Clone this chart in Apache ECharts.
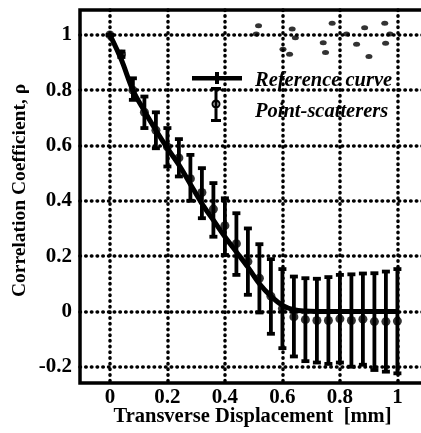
<!DOCTYPE html>
<html>
<head>
<meta charset="utf-8">
<script src="https://cdn.jsdelivr.net/npm/echarts@6/dist/echarts.min.js"></script>
<style>
  html, body { margin: 0; padding: 0; background: #fff; }
  #chart { width: 421px; height: 433px; }
</style>
</head>
<body>
<div id="chart"></div>
<script>
// transverse displacement [mm]
const displacement = [0, 0.04, 0.08, 0.12, 0.16, 0.2, 0.24, 0.28, 0.32, 0.36, 0.4, 0.44, 0.48,
  0.52, 0.56, 0.6, 0.64, 0.68, 0.72, 0.76, 0.8, 0.84, 0.88, 0.92, 0.96, 1.0];
// reference curve
const refCurve = [1.0, 0.91, 0.80, 0.725, 0.655, 0.59, 0.53, 0.46, 0.39, 0.33, 0.27, 0.215, 0.16,
  0.10, 0.055, 0.022, 0.006, 0.001, 0, 0, 0, 0, 0, 0, 0, 0];
// point-scatterers: mean and error bar ends
const psMean = [1.0, 0.93, 0.80, 0.72, 0.655, 0.595, 0.555, 0.48, 0.43, 0.37, 0.31, 0.245, 0.18,
  0.12, 0.055, 0.01, -0.02, -0.03, -0.033, -0.033, -0.027, -0.033, -0.028, -0.037, -0.037, -0.035];
const psHigh = [1.0, 0.94, 0.843, 0.777, 0.72, 0.663, 0.623, 0.566, 0.518, 0.464, 0.409, 0.355, 0.30,
  0.243, 0.189, 0.153, 0.126, 0.12, 0.118, 0.124, 0.132, 0.134, 0.137, 0.138, 0.144, 0.153];
const psLow = [1.0, 0.92, 0.765, 0.663, 0.59, 0.524, 0.488, 0.40, 0.337, 0.27, 0.204, 0.132, 0.06,
  -0.004, -0.081, -0.133, -0.163, -0.18, -0.185, -0.19, -0.185, -0.2, -0.193, -0.212, -0.218, -0.224];
// little scatterer picture at the top right
const dotsX = [0.517, 0.509, 0.634, 0.645, 0.602, 0.625, 0.773, 0.742, 0.750, 0.823, 0.886, 0.858,
  0.901, 0.956, 0.974, 0.959];
const dotsY = [1.033, 1.003, 1.021, 0.990, 0.948, 0.930, 1.042, 0.972, 0.936, 1.003, 1.026, 0.966,
  0.922, 1.042, 1.003, 0.970];

const xTicks = [0, 0.2, 0.4, 0.6, 0.8, 1];
const yTicks = [-0.2, 0, 0.2, 0.4, 0.6, 0.8, 1];

const serif = 'Liberation Serif';
const dotted = { color: '#000', width: 3.5, type: [0.5, 5.2], cap: 'round' };

function renderErrorBar(params, api) {
  const x = api.value(0);
  const top = api.coord([x, api.value(2)]);
  const bot = api.coord([x, api.value(1)]);
  const cap = 4;
  const st = { stroke: '#000', lineWidth: 3.8 };
  return {
    type: 'group',
    children: [
      { type: 'line', shape: { x1: top[0], y1: top[1], x2: bot[0], y2: bot[1] }, style: st },
      { type: 'line', shape: { x1: top[0] - cap, y1: top[1], x2: top[0] + cap, y2: top[1] }, style: st },
      { type: 'line', shape: { x1: bot[0] - cap, y1: bot[1], x2: bot[0] + cap, y2: bot[1] }, style: st }
    ]
  };
}

const refIcon = 'path://M0 0M58 18M0 4L50 4L50 8.5L0 8.5Z M23 0L27 0L27 12L23 12Z';
const psIcon = 'path://M0 0M58 50M22.5 0L25.5 0L25.5 35L22.5 35Z M19 0L29 0L29 3.5L19 3.5Z M19 32L29 32L29 35L19 35Z ' +
  'M28.5 17A4.5 4.5 0 1 1 19.5 17A4.5 4.5 0 1 1 28.5 17Z M26.5 17A2.5 2.5 0 1 0 21.5 17A2.5 2.5 0 1 0 26.5 17Z';

const legendText = { fontFamily: serif, fontStyle: 'italic', fontWeight: 'bold', fontSize: 20.5, color: '#000' };
const labelFont = { fontFamily: serif, fontWeight: 'bold', fontSize: 21, color: '#000' };

const chart = echarts.init(document.getElementById('chart'));
chart.setOption({
  animation: false,
  backgroundColor: '#fff',
  grid: {
    show: true, left: 80, width: 345, top: 10, height: 373,
    outerBoundsMode: 'none', containLabel: false,
    borderColor: '#000', borderWidth: 3.5, backgroundColor: 'transparent'
  },
  legend: [
    {
      data: [{ name: 'Reference curve', icon: refIcon }],
      left: 192, top: 71, padding: 0, itemWidth: 58, itemHeight: 18,
      itemStyle: { color: '#000', borderWidth: 0 }, textStyle: legendText, selectedMode: false
    },
    {
      data: [{ name: 'Point-scatterers', icon: psIcon }],
      left: 192, top: 87, padding: 0, itemWidth: 58, itemHeight: 50,
      itemStyle: { color: '#000', borderWidth: 0 }, textStyle: legendText, selectedMode: false
    }
  ],
  xAxis: {
    type: 'value', min: -0.104, max: 1.096,
    name: 'Transverse Displacement  [mm]', nameLocation: 'middle', nameGap: 23, nameMoveOverlap: false,
    nameTextStyle: { fontFamily: serif, fontWeight: 'bold', fontSize: 20.5, color: '#000' },
    axisLine: { show: false },
    axisTick: { show: false, customValues: xTicks },
    axisLabel: Object.assign({ customValues: xTicks, margin: 4 }, labelFont),
    splitLine: { show: true, lineStyle: dotted }
  },
  yAxis: {
    type: 'value', min: -0.259, max: 1.09,
    name: 'Correlation Coefficient, ρ', nameLocation: 'middle', nameGap: 50, nameMoveOverlap: false,
    nameTextStyle: { fontFamily: serif, fontWeight: 'bold', fontSize: 19.5, color: '#000', padding: [0, 0, 0, 12] },
    axisLine: { show: false },
    axisTick: { show: false, customValues: yTicks },
    axisLabel: Object.assign({ customValues: yTicks, margin: 8 }, labelFont),
    splitLine: { show: true, lineStyle: dotted }
  },
  series: [
    {
      name: 'scatterers', type: 'scatter', symbol: 'circle', symbolSize: [7, 5],
      itemStyle: { color: '#000' },
      data: dotsX.map((x, i) => [x, dotsY[i]])
    },
    {
      name: 'Point-scatterers', type: 'custom', renderItem: renderErrorBar,
      itemStyle: { color: '#000' },
      encode: { x: 0, y: [1, 2] },
      data: displacement.map((x, i) => [x, psLow[i], psHigh[i]]),
      z: 3
    },
    {
      name: 'Point-scatterers', type: 'scatter', symbol: 'circle', symbolSize: 9,
      itemStyle: { color: '#000' },
      data: displacement.map((x, i) => [x, psMean[i]]),
      z: 4
    },
    {
      name: 'Reference curve', type: 'line', smooth: 0.35, symbol: 'none',
      lineStyle: { color: '#000', width: 5 }, itemStyle: { color: '#000' },
      data: displacement.map((x, i) => [x, refCurve[i]]),
      z: 5
    }
  ]
});
</script>
</body>
</html>
